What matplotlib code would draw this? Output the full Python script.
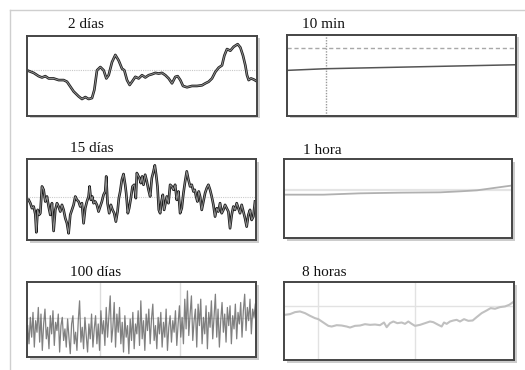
import matplotlib
matplotlib.use("Agg")
import matplotlib.pyplot as plt
import numpy as np
from matplotlib.patches import Rectangle

# ---------------- data ----------------
titles = ["2 días", "10 min", "15 días", "1 hora", "100 días", "8 horas"]

# 2 días
d2_x = [85, 100, 115, 125, 135, 145, 160, 175, 190, 200, 210, 220, 235, 245, 255, 265, 275, 282, 290, 300,
        310, 318, 325, 335, 345, 355, 365, 372, 380, 388, 395, 405, 415, 425, 435, 445, 455, 465, 475, 485,
        495, 505, 515, 520, 525, 532, 540, 548, 560, 575, 590, 605, 615, 625, 635, 645, 655, 665, 672, 680,
        690, 700, 712, 720, 728, 735, 740, 745, 752, 760, 768]
d2_y = [138, 132, 122, 118, 122, 115, 115, 110, 110, 105, 90, 75, 60, 52, 58, 52, 55, 80, 140, 150,
        140, 115, 125, 165, 187, 170, 145, 140, 110, 95, 105, 120, 115, 125, 118, 125, 128, 132, 130, 132,
        125, 115, 100, 110, 120, 122, 110, 92, 88, 92, 92, 94, 100, 105, 115, 135, 148, 155, 185, 205,
        200, 212, 220, 210, 185, 155, 125, 110, 115, 112, 107]
d2_ref = 140

# 10 min
m10_x = [0, 1.69, 10]
m10_y = [138, 143, 155]
m10_ref = 207
m10_mark = 1.69

# 15 días
d15_x = [85, 90, 95, 100, 105, 108, 112, 116, 120, 125, 130, 135, 140, 145, 150, 155, 160, 165, 170, 175,
         180, 185, 190, 195, 200, 205, 210, 215, 220, 225, 230, 235, 240, 245, 250, 255, 260, 265, 268, 272,
         276, 280, 285, 290, 295, 300, 305, 310, 315, 318, 322, 327, 332, 337, 342, 347, 352, 356, 360, 365,
         370, 375, 378, 383, 387, 392, 397, 402, 407, 410, 415, 418, 422, 426, 430, 435, 440, 445, 450, 455,
         460, 464, 468, 472, 476, 480, 484, 488, 492, 496, 500, 505, 510, 515, 520, 525, 530, 535, 540, 545,
         550, 555, 560, 565, 570, 575, 580, 584, 588, 592, 596, 600, 605, 610, 615, 620, 625, 630, 635, 640,
         645, 650, 655, 660, 665, 670, 675, 680, 685, 690, 695, 700, 705, 710, 715, 720, 725, 730, 735, 740,
         745, 750, 755, 760, 765]
d15_y = [120, 110, 95, 100, 77, 23, 90, 75, 80, 160, 150, 115, 130, 100, 75, 110, 27, 90, 110, 100,
         85, 105, 90, 65, 50, 20, 75, 90, 105, 130, 120, 115, 100, 110, 50, 95, 115, 130, 160, 120,
         130, 110, 115, 105, 85, 100, 115, 135, 145, 190, 110, 80, 105, 90, 80, 55, 85, 125, 145, 180,
         197, 165, 140, 80, 95, 125, 160, 165, 125, 200, 190, 185, 170, 190, 165, 195, 175, 150, 130, 185,
         205, 223, 195, 160, 90, 80, 115, 135, 90, 110, 130, 110, 165, 160, 150, 165, 120, 145, 80, 95,
         140, 175, 205, 180, 160, 165, 145, 150, 130, 115, 145, 130, 90, 115, 140, 155, 165, 150, 130, 105,
         70, 95, 85, 110, 80, 90, 105, 95, 85, 35, 75, 100, 90, 110, 95, 80, 105, 85, 65, 40,
         75, 90, 60, 70, 115]
d15_ref = 127

# 1 hora
h1_x = [0.3, 10.4, 20.0, 30.6, 41.1, 46.4, 50.8, 55.2, 59.7]
h1_y = [130, 130, 134, 136, 137, 140, 143, 150, 157]
h1_ref = 145

# 100 días
d100_y = [95, 40, 120, 60, 135, 30, 110, 75, 150, 45,
          130, 20, 100, 145, 55, 90, 25, 125, 70, 140,
          35, 105, 80, 130, 15, 95, 120, 50, 85, 30,
          115, 60, 10, 100, 125, 40, 75, 20, 110, 170,
          45, 90, 25, 120, 65, 15, 100, 55, 130, 30,
          85, 125, 40, 100, 20, 140, 70, 110, 35, 150,
          60, 120, 185, 45, 90, 165, 30, 130, 75, 150,
          40, 105, 15, 125, 60, 95, 10, 115, 50, 135,
          25, 100, 70, 140, 35, 170, 55, 110, 20, 130,
          80, 145, 40, 115, 160, 50, 95, 25, 120, 70,
          135, 30, 105, 60, 145, 20, 90, 125, 45, 110,
          75, 140, 35, 100, 155, 60, 120, 40, 175, 85,
          200, 65, 130, 185, 50, 110, 145, 30, 160, 95,
          175, 40, 120, 70, 155, 25, 135, 90, 170, 55,
          120, 190, 60, 145, 30, 110, 165, 75, 130, 45,
          150, 95, 155, 40, 125, 85, 160, 55, 135, 100,
          165, 60, 140, 190, 80, 150, 110, 175, 70, 145, 120, 160]
d100_ref = 117
d100_marks = [54.5, 114.5]

# 8 horas
h8_x = [75, 90, 105, 120, 135, 150, 165, 175, 190, 205, 215, 230, 245, 260, 270, 285, 300, 315, 330, 345,
        360, 372, 380, 390, 400, 412, 425, 435, 445, 455, 465, 480, 495, 510, 520, 535, 545, 552, 560, 570,
        580, 590, 600, 612, 625, 638, 650, 665, 680, 692, 705, 720, 735, 748, 758]
h8_y = [135, 137, 143, 145, 140, 132, 125, 122, 112, 102, 100, 104, 103, 100, 97, 102, 103, 107, 105, 106,
        104, 112, 98, 110, 115, 110, 112, 108, 115, 108, 102, 105, 110, 115, 113, 105, 100, 112, 108, 115,
        118, 120, 115, 122, 117, 118, 128, 140, 148, 155, 153, 158, 160, 165, 172]
h8_ref = 162
h8_marks = [175, 465]

# ---------------- figure ----------------
W, H = 525, 370
fig = plt.figure(figsize=(W / 100, H / 100), dpi=100)
fig.patch.set_facecolor("white")

# light outer frame lines
fig.add_artist(plt.Line2D([10 / W, 1], [1 - 10 / H, 1 - 10 / H], color="#cfcfcf", lw=1.0))
fig.add_artist(plt.Line2D([10 / W, 10 / W], [0, 1 - 10 / H], color="#cfcfcf", lw=1.0))


def make_ax(x0, y0, x1, y1):
    # pixel box -> figure fraction
    rect = [x0 / W, 1 - y1 / H, (x1 - x0) / W, (y1 - y0) / H]
    # shadow
    fig.add_artist(Rectangle(((x0 + 2.5) / W, 1 - (y1 + 2.5) / H), (x1 - x0) / W, (y1 - y0) / H,
                             transform=fig.transFigure, facecolor="#9a9a9a", edgecolor="none",
                             alpha=0.5, zorder=0))
    ax = fig.add_axes(rect)
    ax.set_facecolor("white")
    ax.set_xticks([])
    ax.set_yticks([])
    for s in ax.spines.values():
        s.set_color("#454545")
        s.set_linewidth(1.4)
    ax.set_zorder(1)
    return ax


title_font = dict(family="Liberation Serif", fontsize=11, color="#111111")


def title(x, y, s):
    fig.text(x / W, 1 - y / H, s, ha="left", va="center", **title_font)


# panel 1: 2 días
ax = make_ax(27, 36, 257, 116)
ax.set_xlim(80, 770)
ax.set_ylim(0, 245)
ax.axhline(d2_ref, color="#c8c8c8", lw=0.8, ls=(0, (1, 1)))
ax.plot(d2_x, d2_y, color="#1e1e1e", lw=1.9, solid_joinstyle="round")
ax.plot(d2_x, d2_y, color="#909090", lw=0.7, solid_joinstyle="round")
title(68, 25, titles[0])

# panel 2: 10 min
ax = make_ax(287, 35, 516, 116)
ax.set_xlim(0, 10)
ax.set_ylim(0, 245)
ax.axhline(m10_ref, color="#a8a8a8", lw=1.0, ls=(0, (3, 2)))
ax.axvline(m10_mark, color="#9a9a9a", lw=1.0, ls=(0, (1, 1)))
ax.plot(m10_x, m10_y, color="#555555", lw=1.1)
title(302, 25, titles[1])

# panel 3: 15 días
ax = make_ax(27, 159, 256, 240)
ax.set_xlim(80, 768)
ax.set_ylim(0, 242)
ax.axhline(d15_ref, color="#cccccc", lw=0.8, ls=(0, (1, 1)))
ax.plot(d15_x, d15_y, color="#1a1a1a", lw=1.9, solid_joinstyle="round")
ax.plot(d15_x, d15_y, color="#909090", lw=0.7, solid_joinstyle="round")
title(70, 149, titles[2])

# panel 4: 1 hora
ax = make_ax(284, 159, 512, 238)
ax.set_xlim(0, 60)
ax.set_ylim(0, 237)
ax.axhline(h1_ref, color="#e4e4e4", lw=1.6)
ax.plot(h1_x, h1_y, color="#b0b0b0", lw=1.3)
title(303, 150, titles[3])

# panel 5: 100 días
ax = make_ax(27, 282, 256, 357)
ax.set_xlim(-0.5, 171.5)
ax.set_ylim(0, 227)
ax.axhline(d100_ref, color="#e0e0e0", lw=1.0)
for m in d100_marks:
    ax.axvline(m, color="#dcdcdc", lw=1.0)
ax.plot(np.arange(len(d100_y)), d100_y, color="#606060", lw=0.9, alpha=0.8)
title(70, 272.5, titles[4])

# panel 6: 8 horas
ax = make_ax(284, 282, 514, 360)
ax.set_xlim(72, 762)
ax.set_ylim(0, 233)
ax.axhline(h8_ref, color="#e2e2e2", lw=1.0)
for m in h8_marks:
    ax.axvline(m, color="#e2e2e2", lw=1.0)
ax.plot(h8_x, h8_y, color="#c0c0c0", lw=1.5)
title(302, 272.5, titles[5])

fig.savefig("out.png", dpi=100, facecolor="white")
